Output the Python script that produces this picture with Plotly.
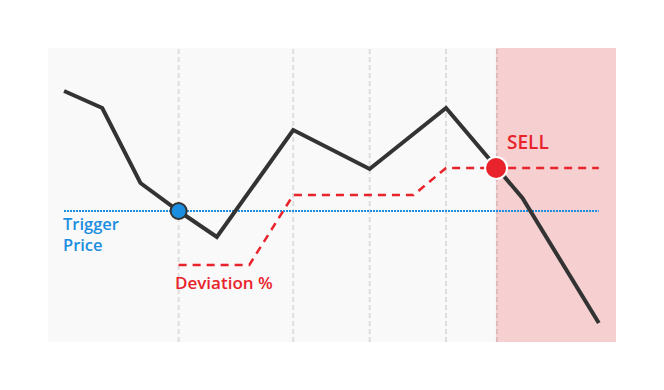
import plotly.graph_objects as go

# Data (x in step units, y in price units)
price_x = [0, 1, 2, 3, 4, 6, 8, 10, 12, 14]
price_y = [251, 234, 159, 131, 105, 212, 173, 234, 144, 19]

trigger_x = [0, 14]
trigger_y = [131, 131]

deviation_x = [3, 4.85, 6, 9.15, 10, 14]
deviation_y = [77, 77, 147, 147, 174, 174]

trigger_point = (3, 131)
sell_point = (11.31, 174)

grid_x = [3, 6, 8, 10, 11.33]

x_range = [-0.42, 14.45]
y_range = [0, 294]

BLUE = "#1a8ee0"
RED = "#e8232b"
DARK = "#333333"
FONT = "Open Sans"

fig = go.Figure()

fig.add_trace(go.Scatter(x=trigger_x, y=trigger_y, mode="lines",
                         line=dict(color=BLUE, width=2, dash="2px,1px"),
                         hoverinfo="skip"))
fig.add_trace(go.Scatter(x=deviation_x, y=deviation_y, mode="lines",
                         line=dict(color=RED, width=2.5, dash="8px,6px"),
                         hoverinfo="skip"))
fig.add_trace(go.Scatter(x=price_x, y=price_y, mode="lines",
                         line=dict(color=DARK, width=4),
                         hoverinfo="skip"))
fig.add_trace(go.Scatter(x=[trigger_point[0]], y=[trigger_point[1]], mode="markers",
                         marker=dict(color=BLUE, size=16, line=dict(color=DARK, width=2)),
                         hoverinfo="skip"))
fig.add_trace(go.Scatter(x=[sell_point[0]], y=[sell_point[1]], mode="markers",
                         marker=dict(color=RED, size=22, line=dict(color="white", width=2)),
                         hoverinfo="skip"))

shapes = [dict(type="rect", xref="x", yref="paper", x0=sell_point[0], x1=x_range[1],
               y0=0, y1=1, fillcolor="#f6cfd0", line=dict(width=0), layer="below")]
for gx in grid_x:
    shapes.append(dict(type="line", xref="x", yref="paper", x0=gx, x1=gx, y0=0, y1=1,
                       line=dict(color="rgba(0,0,0,0.11)", width=2, dash="5px,3px"),
                       layer="below"))

annotations = [
    dict(x=0, y=trigger_y[0] - 22.5, xref="x", yref="y", text="Trigger<br>Price",
         showarrow=False, xanchor="left", yanchor="middle", align="left", xshift=-3,
         font=dict(family=FONT, size=16.5, weight=600, color=BLUE)),
    dict(x=deviation_x[0], y=deviation_y[0] - 17, xref="x", yref="y", text="Deviation %",
         showarrow=False, xanchor="left", yanchor="middle", align="left", xshift=-6,
         font=dict(family=FONT, size=17, weight=600, color=RED)),
    dict(x=11.62, y=200, xref="x", yref="y", text="SELL",
         showarrow=False, xanchor="left", yanchor="middle", align="left", xshift=-3,
         font=dict(family=FONT, size=19, weight=600, color=RED)),
]

fig.update_layout(
    width=664, height=390,
    margin=dict(l=48, r=48, t=48, b=48),
    paper_bgcolor="white", plot_bgcolor="#f9f9f9",
    showlegend=False,
    xaxis=dict(range=x_range, visible=False, showgrid=False, zeroline=False),
    yaxis=dict(range=y_range, visible=False, showgrid=False, zeroline=False),
    shapes=shapes, annotations=annotations,
)

fig.write_html("out.html", config={"displayModeBar": False})
